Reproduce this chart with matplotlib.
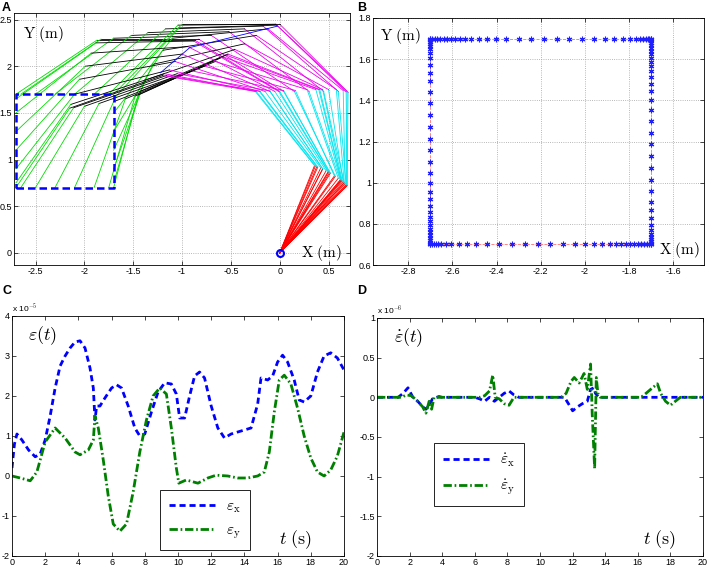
#Module Import
import matplotlib
matplotlib.use("Agg")
from matplotlib import pyplot as plt

plt.rcParams['mathtext.fontset'] = 'cm'
plt.rcParams['font.family'] = ['Liberation Sans', 'DejaVu Sans']

#Panel A data: joint positions of the 5-link arm for each drawn configuration
j1_x = [0.50, 0.52, 0.57, 0.62, 0.66, 0.68, 0.69, 0.69, 0.685, 0.67, 0.66, 0.65, 0.64, 0.632,
        0.63, 0.622, 0.60, 0.56, 0.51, 0.44, 0.38, 0.356, 0.365, 0.39, 0.42, 0.44, 0.475, 0.495]
j1_y = [0.866, 0.855, 0.82, 0.78, 0.75, 0.73, 0.72, 0.72, 0.728, 0.74, 0.75, 0.76, 0.77, 0.775,
        0.777, 0.783, 0.80, 0.825, 0.86, 0.90, 0.925, 0.935, 0.93, 0.92, 0.91, 0.90, 0.88, 0.869]
j2_x = [0.00, 0.04, 0.15, 0.30, 0.45, 0.60, 0.68, 0.70, 0.69, 0.65, 0.58, 0.50, 0.44, 0.41,
        0.40, 0.37, 0.28, 0.16, 0.04, -0.10, -0.21, -0.25, -0.24, -0.20, -0.15, -0.10, -0.05, -0.01]
j2_y = [1.73, 1.73, 1.73, 1.73, 1.73, 1.73, 1.725, 1.72, 1.73, 1.74, 1.75, 1.75, 1.75, 1.75,
        1.75, 1.75, 1.75, 1.74, 1.74, 1.735, 1.733, 1.73, 1.73, 1.73, 1.73, 1.73, 1.73, 1.73]
j3_x = [-0.87, -0.83, -0.70, -0.52, -0.36, -0.17, -0.04, 0.00, -0.03, -0.12, -0.24, -0.36, -0.46, -0.53,
        -0.55, -0.58, -0.66, -0.77, -0.90, -1.05, -1.16, -1.20, -1.18, -1.13, -1.07, -1.00, -0.94, -0.88]
j3_y = [2.28, 2.29, 2.33, 2.37, 2.40, 2.43, 2.45, 2.45, 2.44, 2.40, 2.33, 2.24, 2.18, 2.13,
        2.12, 2.10, 2.05, 2.00, 1.95, 1.92, 1.90, 1.90, 1.92, 1.96, 2.05, 2.13, 2.21, 2.27]
j4_x = [-1.87, -1.83, -1.70, -1.52, -1.35, -1.17, -1.04, -1.00, -1.03, -1.10, -1.20, -1.30, -1.38, -1.43,
        -1.45, -1.48, -1.58, -1.70, -1.85, -2.00, -2.11, -2.15, -2.14, -2.10, -2.05, -1.99, -1.93, -1.88]
j4_y = [2.28, 2.29, 2.30, 2.33, 2.36, 2.40, 2.44, 2.45, 2.41, 2.30, 2.17, 2.02, 1.85, 1.73,
        1.69, 1.68, 1.65, 1.62, 1.60, 1.57, 1.555, 1.55, 1.59, 1.70, 1.86, 2.00, 2.14, 2.25]
end_x = [-2.70, -2.65, -2.50, -2.30, -2.10, -1.90, -1.75, -1.70, -1.70, -1.70, -1.70, -1.70, -1.70, -1.70,
         -1.70, -1.75, -1.90, -2.10, -2.30, -2.50, -2.65, -2.70, -2.70, -2.70, -2.70, -2.70, -2.70, -2.70]
end_y = [1.70, 1.70, 1.70, 1.70, 1.70, 1.70, 1.70, 1.70, 1.65, 1.50, 1.30, 1.10, 0.90, 0.75,
         0.70, 0.70, 0.70, 0.70, 0.70, 0.70, 0.70, 0.70, 0.75, 0.90, 1.10, 1.30, 1.50, 1.65]
blue_x = [-0.02, -0.92, -1.22]
blue_y = [2.43, 2.20, 1.93]
square_x = [-2.7, -1.7, -1.7, -2.7, -2.7]
square_y = [0.7, 0.7, 1.7, 1.7, 0.7]

#Panel B data: steps along each edge of the square path
edge_steps = [0, 0.009, 0.020, 0.032, 0.045, 0.060, 0.076, 0.093, 0.112, 0.134, 0.158, 0.186,
              0.220, 0.257, 0.298, 0.345, 0.400, 0.457, 0.514, 0.572, 0.630, 0.687, 0.742, 0.792,
              0.834, 0.872, 0.905, 0.931, 0.950, 0.965, 0.976, 0.985, 0.993, 1.0]

#Panel C data (x 1e-5)
tc_x = [0.0, 0.15, 0.3, 0.6, 1.0, 1.4, 1.7, 2.0, 2.3, 2.6, 2.9, 3.2, 3.5, 3.8, 4.1, 4.4, 4.7, 4.9,
        5.0, 5.1, 5.3, 5.6, 6.0, 6.3, 6.6, 7.0, 7.4, 7.7, 8.0, 8.4, 8.8, 9.2, 9.6, 9.9, 10.1, 10.4,
        10.7, 11.0, 11.3, 11.6, 12.0, 12.4, 12.8, 13.2, 13.6, 14.0, 14.4, 14.8, 15.0, 15.4, 15.7,
        16.0, 16.3, 16.6, 17.0, 17.3, 17.6, 18.0, 18.4, 18.8, 19.2, 19.6, 20.0]
eps_x = [0.2, 0.8, 1.05, 0.9, 0.65, 0.48, 0.55, 0.9, 1.5, 2.2, 2.75, 3.0, 3.2, 3.35, 3.38, 3.2, 2.7, 2.2,
         1.4, 1.75, 1.75, 1.95, 2.2, 2.28, 2.2, 1.75, 1.2, 1.0, 1.05, 1.6, 2.1, 2.33, 2.3, 2.05, 1.45, 1.45,
         2.0, 2.5, 2.6, 2.45, 1.75, 1.2, 0.95, 1.05, 1.1, 1.15, 1.2, 1.8, 2.45, 2.4, 2.5,
         2.85, 3.02, 2.85, 2.4, 1.9, 1.85, 2.0, 2.6, 3.0, 3.08, 2.95, 2.65]
tc_y = [0.0, 0.5, 1.1, 1.5, 2.0, 2.6, 3.2, 3.8, 4.1, 4.6, 4.9, 5.0, 5.2, 5.5, 5.8, 6.1, 6.5, 6.9, 7.3,
        7.7, 8.1, 8.5, 8.9, 9.3, 9.6, 9.9, 10.05, 10.5, 11.2, 11.8, 12.3, 13.0, 13.6, 14.2, 14.8, 15.2,
        15.5, 15.8, 16.1, 16.4, 16.8, 17.2, 17.6, 18.0, 18.4, 18.8, 19.2, 19.6, 20.0]
eps_y = [0.0, -0.05, -0.12, 0.1, 0.85, 1.2, 0.95, 0.6, 0.53, 0.65, 0.9, 1.5, 1.2, 0.4, -0.5, -1.2, -1.38,
         -1.2, -0.4, 0.6, 1.4, 2.0, 2.2, 2.05, 1.2, 0.2, -0.18, -0.1, -0.18, -0.05, 0.02, 0.0, -0.05, -0.05,
         0.0, 0.1, 0.6, 1.6, 2.4, 2.52, 2.3, 1.7, 1.0, 0.45, 0.1, 0.0, 0.15, 0.5, 1.1]

#Panel D data (x 1e-6)
td_x = [0.0, 1.3, 1.6, 1.9, 2.2, 2.5, 2.8, 3.0, 3.2, 3.4, 3.8, 4.0, 6.0, 6.3, 6.6, 6.9, 7.2, 7.5, 7.8,
        8.1, 8.4, 8.7, 11.5, 11.8, 12.0, 12.3, 12.6, 12.9, 13.1, 13.3, 13.4, 13.6, 20.0]
deps_x = [0.0, 0.0, 0.05, 0.12, 0.0, -0.05, -0.12, -0.15, -0.1, -0.02, 0.01, 0.0, 0.0, -0.02, -0.05, 0.0,
          -0.05, 0.0, 0.05, 0.08, 0.03, 0.0, 0.0, -0.1, -0.17, -0.12, -0.08, -0.05, 0.1, 0.12, 0.05, 0.0, 0.0]
td_y = [0.0, 1.5, 1.8, 2.1, 2.4, 2.8, 3.0, 3.2, 3.35, 3.5, 6.3, 6.6, 6.9, 7.1, 7.25, 7.5, 7.8, 8.1, 8.4,
        11.3, 11.6, 11.9, 12.1, 12.4, 12.7, 12.9, 13.1, 13.2, 13.35, 13.45, 13.55, 13.7, 16.2, 16.5, 16.9,
        17.2, 17.4, 17.7, 18.0, 18.3, 18.6, 20.0]
deps_y = [0.0, 0.0, 0.03, 0.02, -0.03, -0.12, -0.2, -0.05, -0.15, 0.0, 0.0, 0.02, 0.08, 0.28, 0.0, -0.02,
          -0.08, -0.1, 0.0, 0.0, 0.05, 0.2, 0.25, 0.18, 0.3, 0.1, 0.42, -0.2, -0.9, 0.25, 0.05, 0.0, 0.0,
          0.05, 0.12, 0.17, 0.05, -0.05, -0.1, -0.05, 0.0, 0.0]


def fmt(v, pos):
    return '%g' % round(v, 3)


def style(ax, grid=True):
    ax.tick_params(direction='in', top=True, right=True, length=3, width=0.5, labelsize=6.5, pad=1.5)
    ax.xaxis.set_major_formatter(plt.FuncFormatter(fmt))
    ax.yaxis.set_major_formatter(plt.FuncFormatter(fmt))
    for s in ax.spines.values():
        s.set_linewidth(0.6)
    if grid:
        ax.grid(True, linestyle=':', color='#a0a0a0', linewidth=0.6)


def add_legend(ax, anchor):
    leg = ax.legend(loc='lower left', bbox_to_anchor=anchor, fontsize=11, handlelength=3.0,
                    labelspacing=0.55, borderpad=0.6, handletextpad=0.7, borderaxespad=0,
                    fancybox=False, framealpha=1)
    leg.get_frame().set_edgecolor('black')
    leg.get_frame().set_linewidth(0.6)


fig = plt.figure(figsize=(7.08, 5.66), dpi=100)

#Panel A
ax = fig.add_axes([0.0198, 0.5318, 0.4746, 0.4452])
for i in range(len(end_x)):
    ax.plot([0, j1_x[i]], [0, j1_y[i]], color='#ff0000', lw=0.6)
    ax.plot([j1_x[i], j2_x[i]], [j1_y[i], j2_y[i]], color='#00e5f0', lw=0.6)
    ax.plot([j2_x[i], j3_x[i]], [j2_y[i], j3_y[i]], color='#ee00ee', lw=0.6)
    ax.plot([j3_x[i], j4_x[i]], [j3_y[i], j4_y[i]], color='black', lw=0.6)
    ax.plot([j4_x[i], end_x[i]], [j4_y[i], end_y[i]], color='#00dd00', lw=0.6)
ax.plot(blue_x, blue_y, color='blue', lw=0.6)
ax.plot(square_x, square_y, color='blue', lw=1.8, linestyle=(0, (3, 1.6)))
ax.plot([0], [0], 'o', ms=5, mfc='none', mec='blue', mew=1.5)
ax.set_xlim(-2.72, 0.72)
ax.set_ylim(-0.13, 2.57)
ax.set_xticks([-2.5, -2, -1.5, -1, -0.5, 0, 0.5])
ax.set_yticks([0, 0.5, 1, 1.5, 2, 2.5])
style(ax)
ax.text(-2.63, 2.35, r'$\mathrm{Y\ (m)}$', fontsize=11, va='center')
ax.text(0.22, 0.0, r'$\mathrm{X\ (m)}$', fontsize=11, va='center')

#Panel B
path_x = ([-2.7 + s for s in edge_steps] + [-1.7] * len(edge_steps)
          + [-1.7 - s for s in edge_steps] + [-2.7] * len(edge_steps))
path_y = ([1.7] * len(edge_steps) + [1.7 - s for s in edge_steps]
          + [0.7] * len(edge_steps) + [0.7 + s for s in edge_steps])
ax = fig.add_axes([0.5268, 0.5318, 0.4675, 0.4364])
ax.plot(path_x, path_y, color='#ff7070', lw=0.6, linestyle='--')
ax.plot(path_x, path_y, marker=(6, 2, 0), color='#2020ff', ms=4, mew=0.8, linestyle='none')
ax.set_xlim(-2.96, -1.46)
ax.set_ylim(0.6, 1.8)
ax.set_xticks([-2.8, -2.6, -2.4, -2.2, -2, -1.8, -1.6])
ax.set_yticks([0.6, 0.8, 1, 1.2, 1.4, 1.6, 1.8])
style(ax)
ax.text(-2.93, 1.714, r'$\mathrm{Y\ (m)}$', fontsize=11, va='center')
ax.text(-1.665, 0.673, r'$\mathrm{X\ (m)}$', fontsize=11, va='center')

#Panel C
ax = fig.add_axes([0.0169, 0.0177, 0.469, 0.424])
ax.plot(tc_x, eps_x, color='blue', lw=2, linestyle=(0, (2.2, 1.4)), label=r'$\varepsilon_{\mathrm{x}}$')
ax.plot(tc_y, eps_y, color='#008000', lw=2, linestyle=(0, (3, 1, 0.6, 1)), label=r'$\varepsilon_{\mathrm{y}}$')
ax.set_xlim(0, 20)
ax.set_ylim(-2, 4)
ax.set_xticks(range(0, 21, 2))
ax.set_yticks([-2, -1, 0, 1, 2, 3, 4])
style(ax, grid=False)
ax.text(0.0, 1.01, r'x 10$^{-5}$', transform=ax.transAxes, fontsize=6, va='bottom')
ax.text(0.95, 3.5, r'$\varepsilon(t)$', fontsize=13, va='center')
ax.text(16.1, -1.6, r'$t\ \mathrm{(s)}$', fontsize=13, va='center')
add_legend(ax, (0.446, 0.025))

#Panel D
ax = fig.add_axes([0.5325, 0.0177, 0.4605, 0.4205])
ax.plot(td_x, deps_x, color='blue', lw=2, linestyle=(0, (2.2, 1.4)), label=r'$\dot{\varepsilon}_{\mathrm{x}}$')
ax.plot(td_y, deps_y, color='#008000', lw=2, linestyle=(0, (3, 1, 0.6, 1)), label=r'$\dot{\varepsilon}_{\mathrm{y}}$')
ax.set_xlim(0, 20)
ax.set_ylim(-2, 1)
ax.set_xticks(range(0, 21, 2))
ax.set_yticks([-2, -1.5, -1, -0.5, 0, 0.5, 1])
style(ax, grid=False)
ax.text(0.0, 1.01, r'x 10$^{-6}$', transform=ax.transAxes, fontsize=6, va='bottom')
ax.text(1.06, 0.75, r'$\dot{\varepsilon}(t)$', fontsize=13, va='center')
ax.text(16.3, -1.8, r'$t\ \mathrm{(s)}$', fontsize=13, va='center')
add_legend(ax, (0.175, 0.21))

#Panel letters
fig.text(0.003, 0.997, 'A', fontsize=9, fontweight='bold', va='top')
fig.text(0.505, 0.997, 'B', fontsize=9, fontweight='bold', va='top')
fig.text(0.003, 0.497, 'C', fontsize=9, fontweight='bold', va='top')
fig.text(0.505, 0.497, 'D', fontsize=9, fontweight='bold', va='top')

fig.savefig('out.png', dpi=100)
